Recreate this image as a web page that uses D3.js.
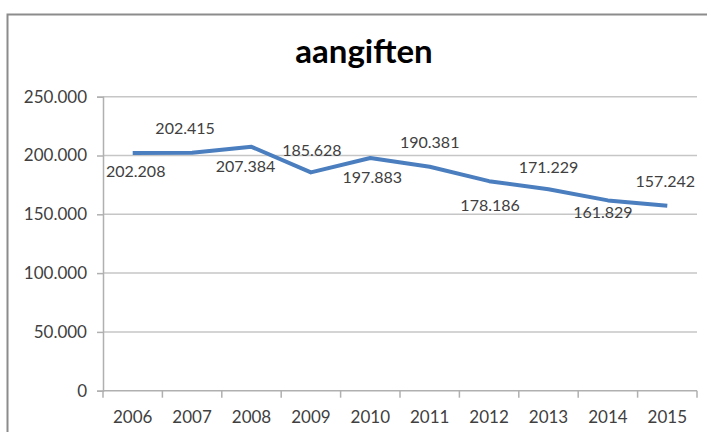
<!DOCTYPE html>
<html>
<head>
<meta charset="utf-8">
<script src="https://cdn.jsdelivr.net/npm/d3@7"></script>
<style>
  body { margin: 0; background: #fff; }
  text { font-family: Lato, "Open Sans", sans-serif; }
</style>
</head>
<body>
<svg id="svg" width="707" height="432"></svg>
<script>
// data
var years = ["2006","2007","2008","2009","2010","2011","2012","2013","2014","2015"];
var aangiften = [202208, 202415, 207384, 185628, 197883, 190381, 178186, 171229, 161829, 157242];
var yTicks = [0, 50000, 100000, 150000, 200000, 250000];
// where each data label sits relative to its point (as placed in the original)
var labelDx = [3, -7, -6, 1, 2, 0, 1, 0, -5, -2];
var labelDy = [18, -24, 20, -22, 19, -24, 24, -22, 12, -24];

var svg = d3.select("#svg");
var margin = {left: 103, right: 10, top: 96.7};
var plotRight = 697, plotBottom = 390.7;

var fmt = function(v) { return d3.format(",.0f")(v).replace(/,/g, "."); };
var fmt3 = function(v) { return d3.format(".3f")(v / 1000); };

// outer chart border
svg.append("rect")
    .attr("x", 7.5).attr("y", 14.5)
    .attr("width", 740).attr("height", 460)
    .attr("fill", "none")
    .attr("stroke", "#8c8c8c")
    .attr("stroke-width", 2);

svg.append("text")
    .text("aangiften")
    .attr("x", 364).attr("y", 63)
    .attr("text-anchor", "middle")
    .style("font-weight", "bold")
    .attr("font-size", "33px")
    .attr("fill", "#000");

var x = d3.scaleBand()
    .domain(years)
    .range([margin.left, plotRight]);

var y = d3.scaleLinear()
    .domain([0, 250000])
    .range([plotBottom, margin.top]);

// gridlines
svg.append("g").selectAll("line")
  .data(yTicks.filter(function(d) { return d > 0; }))
  .enter().append("line")
    .attr("x1", margin.left).attr("x2", plotRight)
    .attr("y1", y).attr("y2", y)
    .attr("stroke", "#c6c6c6")
    .attr("stroke-width", 1.5);

// y axis
var yAxis = svg.append("g")
    .attr("transform", "translate(" + margin.left + ",0)")
    .call(d3.axisLeft(y).tickValues(yTicks).tickSize(6).tickPadding(10).tickFormat(fmt));
yAxis.select(".domain").attr("stroke", "#b0b0b0").attr("stroke-width", 1.5);
yAxis.selectAll(".tick line").attr("stroke", "#b0b0b0").attr("stroke-width", 1.5);
yAxis.selectAll("text")
    .attr("font-family", "Lato, sans-serif")
    .attr("font-size", "17px")
    .attr("fill", "#404040");

// x axis, ticks between the categories
var xAxis = svg.append("g")
    .attr("transform", "translate(0," + plotBottom + ")");
xAxis.append("line")
    .attr("x1", margin.left).attr("x2", plotRight)
    .attr("stroke", "#b0b0b0").attr("stroke-width", 1.5);
xAxis.selectAll(".xtick")
  .data(years.concat(["end"]))
  .enter().append("line")
    .attr("class", "xtick")
    .attr("x1", function(d) { return d == "end" ? plotRight : x(d); })
    .attr("x2", function(d) { return d == "end" ? plotRight : x(d); })
    .attr("y1", 0).attr("y2", 7)
    .attr("stroke", "#b0b0b0").attr("stroke-width", 1.5);
xAxis.selectAll(".xlabel")
  .data(years)
  .enter().append("text")
    .attr("class", "xlabel")
    .attr("x", function(d) { return x(d) + x.bandwidth() / 2; })
    .attr("y", 32)
    .attr("text-anchor", "middle")
    .attr("font-size", "17px")
    .attr("fill", "#404040")
    .text(function(d) { return d; });

// the line
var line = d3.line()
    .x(function(d, i) { return x(years[i]) + x.bandwidth() / 2; })
    .y(function(d) { return y(d); });

svg.append("path")
    .datum(aangiften)
    .attr("d", line)
    .attr("fill", "none")
    .attr("stroke", "#4a7ebf")
    .attr("stroke-width", 4)
    .attr("stroke-linejoin", "round");

// data labels
svg.append("g").selectAll("text")
  .data(aangiften)
  .enter().append("text")
    .attr("x", function(d, i) { return x(years[i]) + x.bandwidth() / 2 + labelDx[i]; })
    .attr("y", function(d, i) { return y(d) + labelDy[i]; })
    .attr("dy", "0.35em")
    .attr("text-anchor", "middle")
    .attr("font-size", "16px")
    .attr("fill", "#404040")
    .text(function(d) { return fmt3(d); });
</script>
</body>
</html>
